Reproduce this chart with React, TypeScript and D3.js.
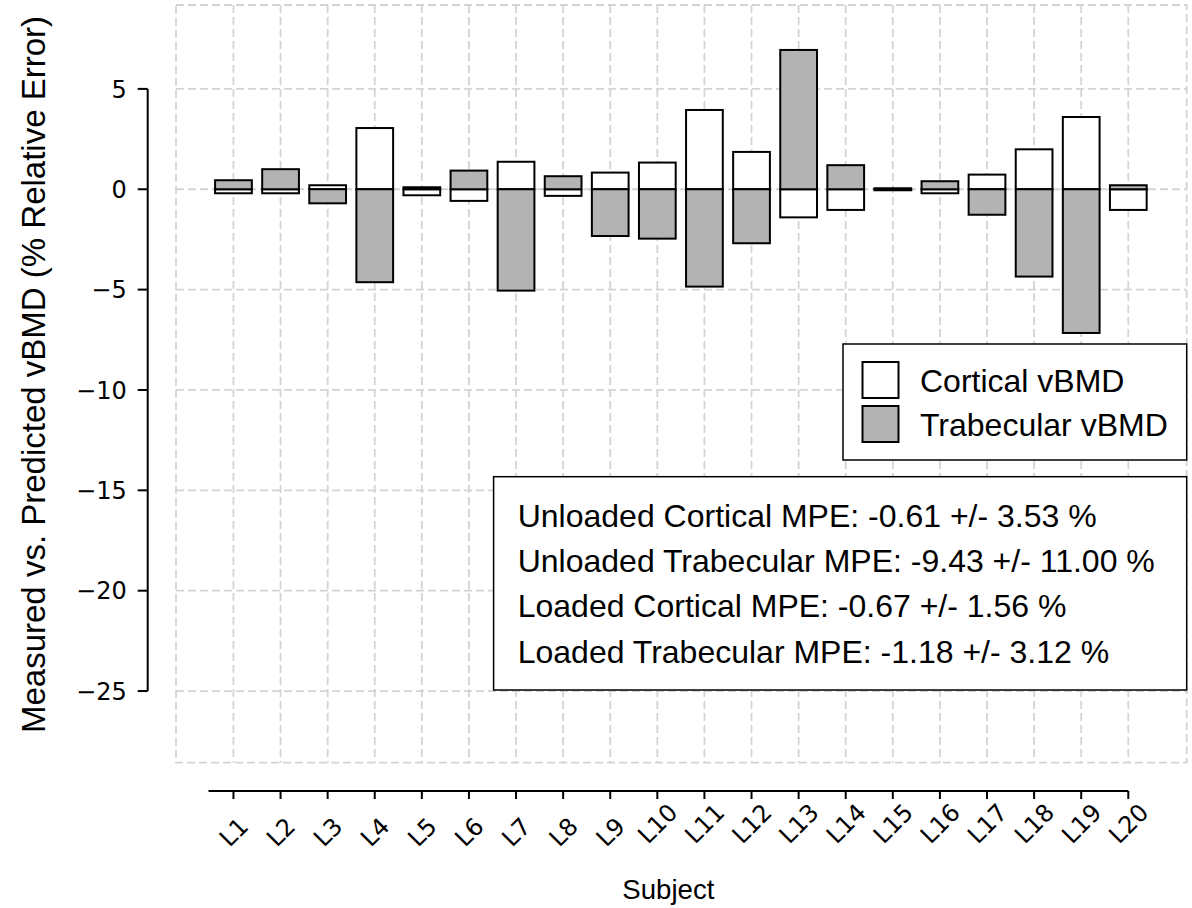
import React from "react";
import * as d3 from "d3";

// subjects on the x axis
const subjects = [
  "L1", "L2", "L3", "L4", "L5", "L6", "L7", "L8", "L9", "L10",
  "L11", "L12", "L13", "L14", "L15", "L16", "L17", "L18", "L19", "L20",
];

// % relative error
const corticalErr = [
  -0.2, -0.2, 0.2, 3.05, -0.3, -0.58, 1.37, -0.33, 0.83, 1.33,
  3.95, 1.86, -1.4, -1.03, -0.05, -0.2, 0.73, 1.99, 3.6, -1.03,
];
const trabecularErr = [
  0.45, 1.0, -0.7, -4.63, 0.1, 0.93, -5.05, 0.65, -2.33, -2.46,
  -4.85, -2.69, 6.94, 1.2, 0.05, 0.4, -1.27, -4.35, -7.16, 0.2,
];

const yTicks = [5, 0, -5, -10, -15, -20, -25];

const legendItems = [
  { label: "Cortical vBMD", fill: "#ffffff" },
  { label: "Trabecular vBMD", fill: "#b3b3b3" },
];

const mpeLines = [
  "Unloaded Cortical MPE: -0.61 +/- 3.53 %",
  "Unloaded Trabecular MPE: -9.43 +/- 11.00 %",
  "Loaded Cortical MPE: -0.67 +/- 1.56 %",
  "Loaded Trabecular MPE: -1.18 +/- 3.12 %",
];

const W = 1192;
const H = 908;
const frame = { left: 176, right: 1186.7, top: 5, bottom: 762.7 };
const gridColor = "#d4d4d4";
const tickFont = "'DejaVu Sans', sans-serif";
const textFont = "'Liberation Sans', Arial, sans-serif";

const App = () => {
  const x = d3.scaleLinear().domain([-1.22, 20.24]).range([frame.left, frame.right]);
  const y = d3.scaleLinear().domain([-28.57, 9.18]).range([frame.bottom, frame.top]);
  const band = x(1) - x(0);
  const bw = band * 0.78;

  const bar = (v: number, i: number) => {
    const y0 = y(Math.max(v, 0));
    const h = Math.abs(y(v) - y(0));
    return { x: x(i) - bw / 2, y: y0, w: bw, h };
  };

  const ySpineX = 147.7;
  const xSpineY = 791;

  return (
    <svg
      width={W}
      height={H}
      style={{ position: "absolute", left: 0, top: 0, background: "#fff" }}
    >
      {/* dashed grid + frame */}
      <g stroke={gridColor} strokeWidth={1.8} strokeDasharray="8,4" fill="none">
        <rect
          x={frame.left}
          y={frame.top}
          width={frame.right - frame.left}
          height={frame.bottom - frame.top}
        />
        {subjects.map((s, i) => (
          <line key={s} x1={x(i)} x2={x(i)} y1={frame.top} y2={frame.bottom} />
        ))}
        {yTicks.map((t) => (
          <line key={t} x1={frame.left} x2={frame.right} y1={y(t)} y2={y(t)} />
        ))}
      </g>

      {/* bars */}
      <g stroke="#000" strokeWidth={2}>
        {corticalErr.map((v, i) => {
          const b = bar(v, i);
          return <rect key={"c" + i} x={b.x} y={b.y} width={b.w} height={b.h} fill="#ffffff" />;
        })}
        {trabecularErr.map((v, i) => {
          const b = bar(v, i);
          return <rect key={"t" + i} x={b.x} y={b.y} width={b.w} height={b.h} fill="#b3b3b3" />;
        })}
      </g>

      {/* y axis */}
      <g>
        <line x1={ySpineX} x2={ySpineX} y1={y(5)} y2={y(-25)} stroke="#000" strokeWidth={2} />
        {yTicks.map((t) => (
          <g key={t}>
            <line x1={ySpineX - 10} x2={ySpineX} y1={y(t)} y2={y(t)} stroke="#000" strokeWidth={2} />
            <text
              x={ySpineX - 21}
              y={y(t)}
              dy="0.36em"
              textAnchor="end"
              fontFamily={tickFont}
              fontSize={24}
              fill="#000"
            >
              {t < 0 ? "\u2212" + Math.abs(t) : String(t)}
            </text>
          </g>
        ))}
        <text
          transform={`translate(45, 374.5) rotate(-90)`}
          textAnchor="middle"
          fontFamily={textFont}
          fontSize={33}
          fill="#000"
        >
          Measured vs. Predicted vBMD (% Relative Error)
        </text>
      </g>

      {/* x axis */}
      <g>
        <line x1={x(-0.53)} x2={x(19)} y1={xSpineY} y2={xSpineY} stroke="#000" strokeWidth={2} />
        {subjects.map((s, i) => (
          <g key={s}>
            <line x1={x(i)} x2={x(i)} y1={xSpineY} y2={xSpineY + 8} stroke="#000" strokeWidth={2} />
            <text
              transform={`translate(${x(i) + 6.2}, ${838 - 8.6 * (s.length - 2)}) rotate(-45)`}
              textAnchor="middle"
              fontFamily={tickFont}
              fontSize={24}
              fill="#000"
            >
              {s}
            </text>
          </g>
        ))}
        <text
          x={(x(-0.53) + x(19)) / 2}
          y={899}
          textAnchor="middle"
          fontFamily={textFont}
          fontSize={27.6}
          fill="#000"
        >
          Subject
        </text>
      </g>

      {/* legend */}
      <g>
        <rect x={843} y={344} width={1186.7 - 843} height={116} fill="#fff" stroke="#000" strokeWidth={1.5} />
        {legendItems.map((d, i) => (
          <g key={d.label}>
            <rect
              x={862.5}
              y={362 + i * 44}
              width={36}
              height={36}
              fill={d.fill}
              stroke="#000"
              strokeWidth={2}
            />
            <text x={920} y={391.5 + i * 44} fontFamily={textFont} fontSize={32} fill="#000">
              {d.label}
            </text>
          </g>
        ))}
      </g>

      {/* MPE summary box */}
      <g>
        <rect x={493.6} y={476.7} width={1186.7 - 493.6} height={690 - 476.7} fill="#fff" stroke="#000" strokeWidth={1.5} />
        {mpeLines.map((t, i) => (
          <text key={t} x={517.7} y={526.7 + i * 45.3} fontFamily={textFont} fontSize={32} fill="#000">
            {t}
          </text>
        ))}
      </g>
    </svg>
  );
};

export default App;
